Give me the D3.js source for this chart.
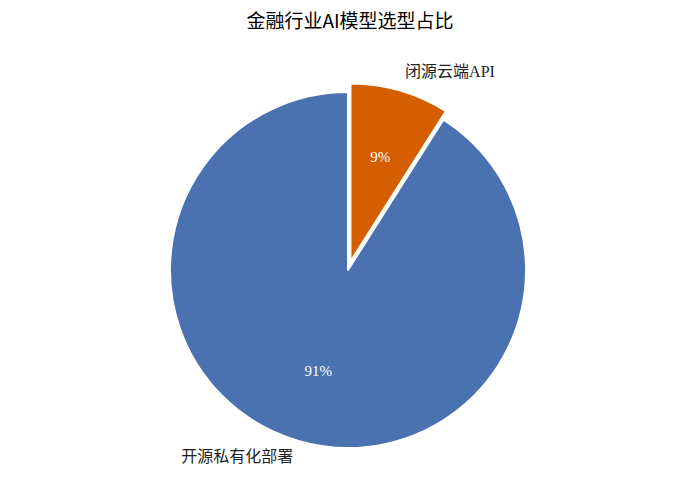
<!DOCTYPE html>
<html>
<head>
<meta charset="utf-8">
<script src="https://cdn.jsdelivr.net/npm/d3@7"></script>
<style>
  body { margin: 0; background: #fff; }
  svg { display: block; }
</style>
</head>
<body>
<script>
const width = 700;
const height = 500;

// data
const labels = ["闭源云端API", "开源私有化部署"];
const values = [9, 91];
const explode = [0.05, 0];
const colors = ["#d45e00", "#4a72b0"];

const cx = 348, cy = 270, radius = 178;

const svg = d3.select("body").append("svg")
    .attr("width", width)
    .attr("height", height);

svg.append("text")
    .attr("x", 350)
    .attr("y", 23)
    .attr("text-anchor", "middle")
    .attr("dominant-baseline", "middle")
    .style("font-family", "'Noto Sans CJK SC', 'DejaVu Sans', sans-serif")
    .style("font-size", "19px")
    .text("金融行业AI模型选型占比");

// clockwise from 12 o'clock
const pie = d3.pie().sort(null).value(d => d);
const arcs = pie(values);
const arc = d3.arc().innerRadius(0).outerRadius(radius);

const g = svg.append("g").attr("transform", `translate(${cx},${cy})`);

arcs.forEach((a, i) => {
    const mid = (a.startAngle + a.endAngle) / 2;
    const dx = Math.sin(mid), dy = -Math.cos(mid);
    const off = explode[i] * radius;
    const sg = g.append("g").attr("transform", `translate(${dx * off},${dy * off})`);

    sg.append("path")
        .attr("d", arc(a))
        .attr("fill", colors[i])
        .attr("stroke", "#fff")
        .attr("stroke-width", 2)
        .attr("stroke-linejoin", "round");

    // percentage at 0.6 radius
    sg.append("text")
        .attr("x", dx * radius * 0.6)
        .attr("y", dy * radius * 0.6)
        .attr("text-anchor", "middle")
        .attr("dominant-baseline", "middle")
        .attr("fill", "#fff")
        .style("font-family", "'Liberation Serif', 'Noto Sans CJK SC', serif")
        .style("font-size", "15px")
        .text(Math.round(values[i]) + "%");

    // category label at 1.1 radius
    sg.append("text")
        .attr("x", dx * radius * 1.1)
        .attr("y", dy * radius * 1.1)
        .attr("text-anchor", dx > 0 ? "start" : "end")
        .attr("dominant-baseline", "middle")
        .attr("fill", "#222")
        .style("font-family", "'Liberation Serif', 'Noto Sans CJK SC', serif")
        .style("font-size", "16px")
        .text(labels[i]);
});
</script>
</body>
</html>
